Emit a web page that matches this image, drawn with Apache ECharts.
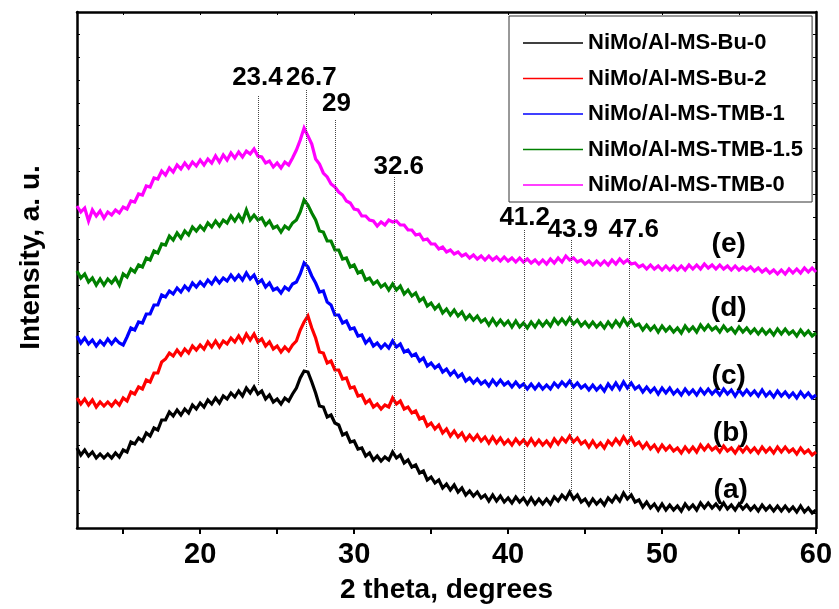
<!DOCTYPE html>
<html><head><meta charset="utf-8">
<script src="https://cdn.jsdelivr.net/npm/echarts@6/dist/echarts.min.js"></script>
<style>html,body{margin:0;padding:0;background:#fff;}#c{width:839px;height:609px;}</style>
</head><body><div id="c"></div>
<script>
// 2-theta sampling grid (degrees)
const thetaStart = 12, thetaStep = 0.25, thetaCount = 193;
const twoTheta = Array.from({length: thetaCount}, (_, i) => thetaStart + thetaStep * i);

const seriesNames = ['NiMo/Al-MS-Bu-0','NiMo/Al-MS-Bu-2','NiMo/Al-MS-TMB-1','NiMo/Al-MS-TMB-1.5','NiMo/Al-MS-TMB-0'];
const seriesColors = ['#000000','#ff0000','#0000ff','#008000','#ff00ff'];

// intensities (a.u., stacked with offsets as in the figure)
const intensityBu0 = [
80,73,78,72,76,70,74,70, 74,70,75,71,78,76,86,84, 90,87,95,92,100,98,108,108,
116,112,118,113,119,115,123,119, 125,121,128,124,130,125,132,129, 135,131,137,132,140,135,141,134,
137,129,133,126,129,124,130,127, 134,140,150,157,156,146,135,122, 121,111,113,105,103,93,95,86,
87,79,80,72,75,68,72,67, 71,68,76,70,73,65,68,61, 63,55,57,48,51,45,48,40,
44,38,43,36,40,33,37,32, 36,30,33,27,33,27,32,26, 30,25,31,26,30,24,30,24,
29,24,29,24,31,27,33,29, 36,29,33,26,29,23,29,24, 28,23,30,26,32,27,35,29,
33,26,28,21,26,20,24,18, 24,18,23,18,22,17,24,19, 23,18,25,20,25,20,24,19,
25,19,23,18,24,19,23,18, 22,17,23,18,22,17,22,17, 22,17,21,16,22,16,20,15, 18];
const intensityBu2 = [
130,124,129,123,128,121,126,122, 126,122,127,123,130,127,136,134, 141,139,148,146,155,155,166,169,
175,172,178,173,179,175,182,178, 183,179,186,181,187,181,187,184, 190,186,192,186,194,188,194,186,
189,182,186,179,182,176,181,177, 183,187,198,206,212,200,190,176, 175,165,167,158,158,149,150,140,
141,132,133,125,128,121,124,119, 123,121,130,124,127,119,121,115, 117,109,111,102,105,99,103,95,
99,92,97,91,95,88,93,88, 93,87,91,85,91,85,90,84, 88,83,89,84,88,83,89,83,
88,83,87,82,89,84,90,86, 92,86,90,84,87,81,87,81, 85,80,87,83,89,84,91,85,
90,83,86,80,85,79,83,77, 83,78,82,77,80,75,81,76, 81,76,83,78,83,78,81,76,
82,77,80,75,81,76,81,76, 80,75,81,76,80,75,81,76, 81,76,79,74,80,75,78,73, 76];
const intensityTMB1 = [
192,185,190,184,188,182,187,183, 189,184,189,185,183,191,200,198, 206,205,214,214,223,223,233,231,
237,234,240,236,242,238,245,241, 246,242,248,244,250,245,250,247, 253,248,253,248,255,249,253,245,
248,241,245,238,240,235,241,238, 244,246,254,265,261,252,245,236, 237,226,223,213,213,205,207,199,
200,192,193,185,189,182,185,180, 184,180,187,181,184,176,178,172, 174,167,170,162,165,160,163,156,
159,153,157,151,154,147,150,145, 149,144,147,142,148,143,148,143, 146,141,146,141,144,139,144,139,
144,139,143,139,145,141,146,142, 147,141,145,140,143,138,143,138, 142,137,144,139,145,139,146,140,
145,139,142,136,141,136,140,134, 140,135,140,134,138,133,139,134, 138,133,139,134,139,134,138,133,
139,134,138,132,138,133,138,133, 137,132,138,132,136,131,137,132, 136,131,135,130,136,131,135,130, 133];
const intensityTMB15 = [
257,250,254,246,250,243,249,243, 249,245,250,243,254,251,259,256, 263,261,270,268,277,275,284,283,
292,288,295,290,297,293,301,297, 302,298,305,301,307,302,308,305, 312,307,313,307,318,308,313,308,
310,303,307,300,302,296,302,299, 305,308,316,328,323,315,308,297, 296,287,287,278,278,269,270,261,
263,255,257,248,250,244,247,241, 244,238,244,238,242,234,238,232, 235,227,230,222,225,219,223,215,
219,213,218,212,216,209,213,208, 212,206,209,203,209,203,208,203, 207,201,207,201,205,200,206,201,
207,202,207,202,209,204,209,204, 210,204,208,202,206,201,206,201, 205,200,206,201,207,202,209,203,
208,202,204,198,203,198,202,196, 202,197,201,196,200,195,202,197, 201,196,203,198,203,198,201,196,
202,197,200,195,201,196,200,195, 199,194,199,194,198,193,199,194, 199,194,197,192,198,193,197,192, 195];
const intensityTMB0 = [
322,316,320,307,318,312,317,310, 316,313,318,315,321,319,327,326, 334,333,342,341,350,349,357,353,
360,356,363,359,365,360,366,362, 368,363,369,365,372,366,373,368, 375,370,376,371,377,374,379,372,
371,365,367,361,365,360,366,363, 370,378,388,400,392,384,369,364, 355,351,344,341,336,333,327,325,
319,318,312,312,308,307,302,306, 303,308,306,307,303,303,298,298, 293,294,288,289,284,284,279,281,
276,278,274,276,272,274,270,273, 269,272,268,272,268,271,267,271, 267,270,266,270,266,269,265,268,
264,268,264,269,265,270,266,272, 268,270,266,268,264,267,263,267, 263,267,263,268,264,269,265,268,
264,265,261,263,259,263,259,262, 258,262,258,262,258,262,258,263, 259,263,259,264,260,263,259,263,
259,262,258,262,258,261,258,261, 257,260,256,259,255,258,254,258, 254,259,255,259,255,260,256,260, 256];
const allIntensities = [intensityBu0, intensityBu2, intensityTMB1, intensityTMB15, intensityTMB0];

// peak marker lines
const peakLineX = [23.75, 26.88, 28.75, 32.63, 41.04, 44.12, 47.86];
const peakLineTop = [432, 438, 408, 351, 298, 288, 288];
const peakLineBottom = [143, 160, 111, 78, 35, 36, 35];
const peakLabels = ['23.4','26.7','29','32.6','41.2','43.9','47.6'];
const peakLabelX = [23.72, 27.22, 28.85, 32.9, 41.08, 44.2, 48.16];
const peakLabelY = [450, 450, 424, 361, 310, 298, 298];

// curve labels
const curveLabels = ['(a)','(b)','(c)','(d)','(e)'];
const curveLabelX = [54.46, 54.46, 54.33, 54.33, 54.33];
const curveLabelY = [38, 95, 152, 220, 284];

// axis ticks
const xLabelValues = [20, 30, 40, 50, 60];
const xTickValues = [15, 20, 25, 30, 35, 40, 45, 50, 55, 60];
const xTopTickValues = [15, 20, 25, 30, 35, 40, 45, 50, 55];
const yTickValues = [15, 38, 61, 83, 106, 129, 152, 175, 197, 220, 243, 266, 289, 311, 334, 357, 380, 403, 425, 448, 471, 494];

const FONT = '"Liberation Sans", Arial, sans-serif';
const chart = echarts.init(document.getElementById('c'), null, {renderer: 'canvas'});

const lineSeries = seriesNames.map((name, k) => ({
  name, type: 'line', showSymbol: false, symbol: 'none',
  data: twoTheta.map((x, i) => [x, allIntensities[k][i]]),
  lineStyle: {color: seriesColors[k], width: 3.2, join: 'miter'},
  itemStyle: {color: seriesColors[k]},
  emphasis: {disabled: true}, z: 3
}));

const textLabel = (size) => ({
  show: true, position: 'inside', formatter: p => p.name,
  fontFamily: FONT, fontSize: size, fontWeight: 'bold', color: '#000', opacity: 1,
  textBorderWidth: 0
});

const option = {
  animation: false,
  backgroundColor: '#fff',
  grid: {left: 77, right: 23, top: 12, bottom: 81, containLabel: false},
  legend: {
    data: seriesNames, orient: 'vertical', left: 509, top: 16,
    padding: [15, 9, 5, 14], itemGap: 11.5, itemWidth: 60, itemHeight: 1.5, icon: 'rect',
    borderColor: '#333', borderWidth: 1, backgroundColor: '#fff',
    textStyle: {fontFamily: FONT, fontSize: 22, fontWeight: 'bold', color: '#000', lineHeight: 24},
    selectedMode: false
  },
  xAxis: [{
    type: 'value', min: 12, max: 60, position: 'bottom',
    name: '2 theta, degrees', nameLocation: 'middle', nameGap: 48,
    nameTextStyle: {fontFamily: FONT, fontSize: 28, fontWeight: 'bold', color: '#000'},
    axisLine: {show: true, onZero: false, lineStyle: {color: '#000', width: 2.5}},
    axisTick: {show: true, inside: false, length: 6, lineStyle: {color: '#000', width: 2}, customValues: xTickValues},
    axisLabel: {show: true, margin: 12, fontFamily: FONT, fontSize: 29, fontWeight: 'bold', color: '#000', customValues: xLabelValues},
    splitLine: {show: false}
  }, {
    type: 'value', min: 12, max: 60, position: 'top',
    axisLine: {show: true, onZero: false, lineStyle: {color: '#000', width: 2.5}},
    axisTick: {show: true, inside: true, length: 3, lineStyle: {color: '#000', width: 1}, customValues: xTopTickValues},
    axisLabel: {show: false}, splitLine: {show: false}
  }],
  yAxis: [{
    type: 'value', min: 0, max: 516, position: 'left',
    name: 'Intensity, a. u.', nameLocation: 'middle', nameGap: 32, nameRotate: 90,
    nameTextStyle: {fontFamily: FONT, fontSize: 28, fontWeight: 'bold', color: '#000', padding: [0, 0, 0, 25]},
    axisLine: {show: true, onZero: false, lineStyle: {color: '#000', width: 2.5}},
    axisTick: {show: true, inside: true, length: 3, lineStyle: {color: '#000', width: 1}, customValues: yTickValues},
    axisLabel: {show: false}, splitLine: {show: false}
  }, {
    type: 'value', min: 0, max: 516, position: 'right',
    axisLine: {show: true, onZero: false, lineStyle: {color: '#000', width: 2.5}},
    axisTick: {show: true, inside: true, length: 3, lineStyle: {color: '#000', width: 1}, customValues: yTickValues},
    axisLabel: {show: false}, splitLine: {show: false}
  }],
  series: [
    ...lineSeries,
    {
      type: 'lines', coordinateSystem: 'cartesian2d', z: 4, silent: true,
      data: peakLineX.map((x, i) => ({coords: [[x, peakLineTop[i]], [x, peakLineBottom[i]]]})),
      lineStyle: {color: '#444', width: 1, type: 'dotted', opacity: 1}
    },
    {
      type: 'scatter', z: 5, silent: true, symbol: 'circle', symbolSize: 0,
      itemStyle: {color: '#000', opacity: 1},
      data: peakLabels.map((t, i) => ({name: t, value: [peakLabelX[i], peakLabelY[i]]})),
      label: textLabel(26)
    },
    {
      type: 'scatter', z: 5, silent: true, symbol: 'circle', symbolSize: 0,
      itemStyle: {color: '#000', opacity: 1},
      data: curveLabels.map((t, i) => ({name: t, value: [curveLabelX[i], curveLabelY[i]]})),
      label: textLabel(28)
    }
  ]
};
chart.setOption(option);
</script></body></html>
